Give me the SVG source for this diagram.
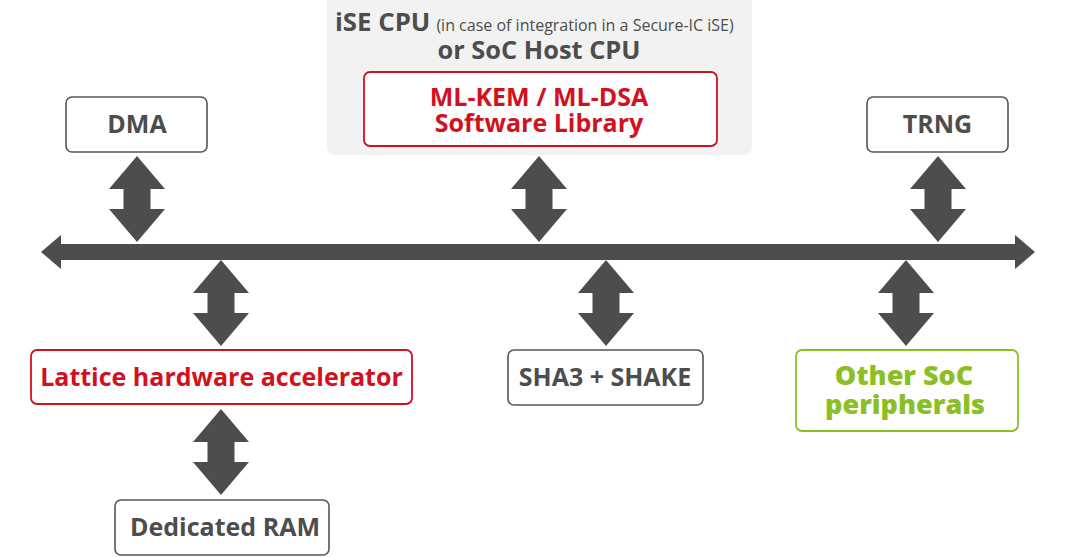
<svg xmlns="http://www.w3.org/2000/svg" width="1073" height="557" viewBox="0 0 1073 557">
<style>
text{font-family:"Open Sans","Liberation Sans",sans-serif;font-weight:700;text-anchor:middle}
.box{fill:#fff;stroke:#555;stroke-width:1.6}
.red{fill:#fff;stroke:#d2111e;stroke-width:1.8}
.grn{fill:#fff;stroke:#8cbf26;stroke-width:1.8}
.t{font-size:25px;fill:#4d4d4d}
.tr{font-size:25px;fill:#d2111e}
.tg{font-size:27px;fill:#8cbf26;font-weight:800}
.arr{fill:#4d4d4d}
</style>
<defs>
<path id="ud" d="M0,0 L28,33 L13.5,33 L13.5,53 L28,53 L0,86 L-28,53 L-13.5,53 L-13.5,33 L-28,33 Z"/>
</defs>
<g id="cpu">
<rect x="327" y="-6" width="425" height="161" rx="8" fill="#f2f2f2"/>
<text x="335" y="31" style="text-anchor:start"><tspan font-size="25.8" fill="#4d4d4d">iSE CPU</tspan><tspan font-size="16" fill="#4d4d4d" font-weight="400" dx="6">(in case of integration in a Secure-IC iSE)</tspan></text>
<text x="539" y="59" font-size="25.4" fill="#4d4d4d">or SoC Host CPU</text>
</g>
<g id="mlkem">
<rect class="red" x="364" y="72" width="353" height="74" rx="6"/>
<text class="tr" x="539" y="106" font-size="25.6">ML-KEM / ML-DSA</text>
<text class="tr" x="539" y="132" font-size="25.2">Software Library</text>
</g>
<g id="dma">
<rect class="box" x="66" y="97" width="141" height="55" rx="6"/>
<text class="t" x="137" y="133">DMA</text>
</g>
<g id="trng">
<rect class="box" x="867" y="97" width="141" height="55" rx="6"/>
<text class="t" x="937.5" y="133" font-size="25.8">TRNG</text>
</g>
<g id="lattice">
<rect class="red" x="31" y="350" width="381" height="54" rx="6"/>
<text class="tr" x="221.5" y="386" font-size="24.4">Lattice hardware accelerator</text>
</g>
<g id="sha3">
<rect class="box" x="508" y="350" width="195" height="55" rx="6"/>
<text class="t" x="605" y="386" font-size="26">SHA3 + SHAKE</text>
</g>
<g id="other">
<rect class="grn" x="796" y="350" width="222" height="81" rx="6"/>
<text class="tg" x="904" y="385">Other SoC</text>
<text class="tg" x="905" y="414">peripherals</text>
</g>
<g id="ram">
<rect class="box" x="115" y="500" width="214" height="55" rx="6"/>
<text class="t" x="225" y="536" font-size="24.3">Dedicated RAM</text>
</g>
<g id="connectors" class="arr">
<path d="M41,252 L61,235 L61,244 L1015,244 L1015,235 L1035,252 L1015,269 L1015,260 L61,260 L61,269 Z"/>
<use href="#ud" x="137" y="156"/>
<use href="#ud" x="539" y="156"/>
<use href="#ud" x="938" y="156"/>
<use href="#ud" x="221" y="260"/>
<use href="#ud" x="606" y="260"/>
<use href="#ud" x="906" y="260"/>
<use href="#ud" x="221" y="409"/>
</g>
</svg>
